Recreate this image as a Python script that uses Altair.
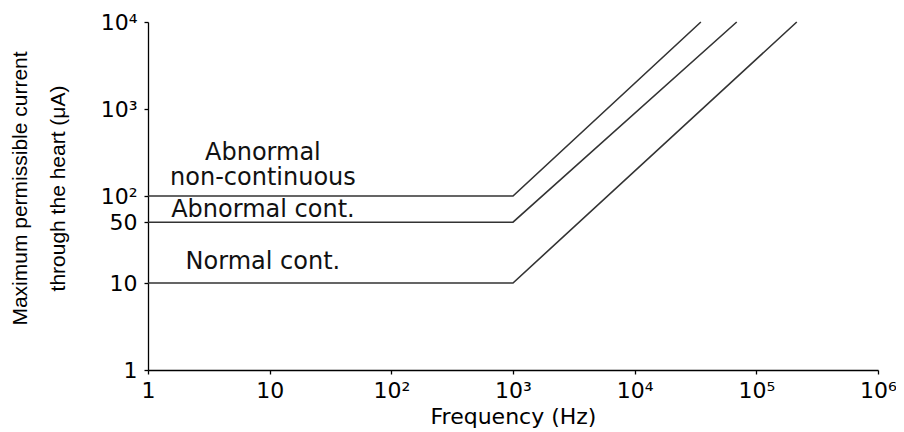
import altair as alt
import pandas as pd

# ---- data ----
series = ["Abnormal non-continuous", "Abnormal cont.", "Normal cont."]
start_freq = [1, 1, 1]
plateau_current = [100, 50, 10]
knee_freq = [1000, 1000, 1000]
end_freq = [35000, 69000, 215000]
end_current = [10000, 10000, 10000]

x_tick_values = [1, 10, 100, 1000, 10000, 100000, 1000000]
x_tick_labels = ["1", "10", "10²", "10³", "10⁴", "10⁵", "10⁶"]
y_tick_values = [1, 10, 50, 100, 1000, 10000]
y_tick_labels = ["1", "10", "50", "10²", "10³", "10⁴"]

label_text = ["Abnormal", "non-continuous", "Abnormal cont.", "Normal cont."]
label_freq = [8.8, 8.8, 8.8, 8.8]
label_current = [262, 134, 57, 14.5]

# ---- build tables ----
rows = []
for i, s in enumerate(series):
    rows.append({"series": s, "order": 0, "freq": start_freq[i], "current": plateau_current[i]})
    rows.append({"series": s, "order": 1, "freq": knee_freq[i], "current": plateau_current[i]})
    rows.append({"series": s, "order": 2, "freq": end_freq[i], "current": end_current[i]})
lines_df = pd.DataFrame(rows)
labels_df = pd.DataFrame({"text": label_text, "freq": label_freq, "current": label_current})


def label_expr(values, labels):
    expr = "''"
    for v, l in reversed(list(zip(values, labels))):
        expr = f"round(datum.value) == {v} ? '{l}' : {expr}"
    return expr


x_scale = alt.Scale(type="log", domain=[1, 1000000])
y_scale = alt.Scale(type="log", domain=[1, 10000])

x_axis = alt.Axis(
    values=x_tick_values,
    labelExpr=label_expr(x_tick_values, x_tick_labels),
    title="Frequency (Hz)",
    grid=False,
    tickSize=4,
    labelPadding=6,
    titlePadding=5,
    labelFont="DejaVu Sans",
    labelFontSize=22,
    titleFont="DejaVu Sans",
    titleFontSize=22,
    titleFontWeight="normal",
    labelFlush=False,
    labelOverlap=False,
)
y_axis = alt.Axis(
    values=y_tick_values,
    labelExpr=label_expr(y_tick_values, y_tick_labels),
    title=["Maximum permissible current", "through the heart (μA)"],
    grid=False,
    tickSize=4,
    labelPadding=7,
    labelFont="DejaVu Sans",
    labelFontSize=22,
    titleFont="Liberation Sans",
    titleFontSize=21,
    titleFontWeight="normal",
    titleLineHeight=38,
    titleX=-118,
    titleY=166,
    labelFlush=False,
    labelOverlap=False,
)

lines = alt.Chart(lines_df).mark_line(color="#333333", strokeWidth=1.6).encode(
    x=alt.X("freq:Q", scale=x_scale, axis=x_axis),
    y=alt.Y("current:Q", scale=y_scale, axis=y_axis),
    detail="series:N",
    order="order:Q",
)

texts = alt.Chart(labels_df).mark_text(
    align="center", baseline="alphabetic", font="DejaVu Sans", fontSize=24, color="#111111"
).encode(
    x=alt.X("freq:Q", scale=x_scale),
    y=alt.Y("current:Q", scale=y_scale),
    text="text:N",
)

chart = (
    alt.layer(lines, texts)
    .properties(
        width=730,
        height=348,
        autosize=alt.AutoSizeParams(type="none"),
        padding={"left": 140, "top": 14, "right": 18, "bottom": 62},
        background="white",
    )
    .configure_view(stroke=None)
    .configure_axis(domainColor="black", tickColor="black", domainWidth=1.3, tickWidth=1.3,
                    labelColor="black", titleColor="black")
)

chart.save("out.html", embed_options={"renderer": "svg", "actions": False})
